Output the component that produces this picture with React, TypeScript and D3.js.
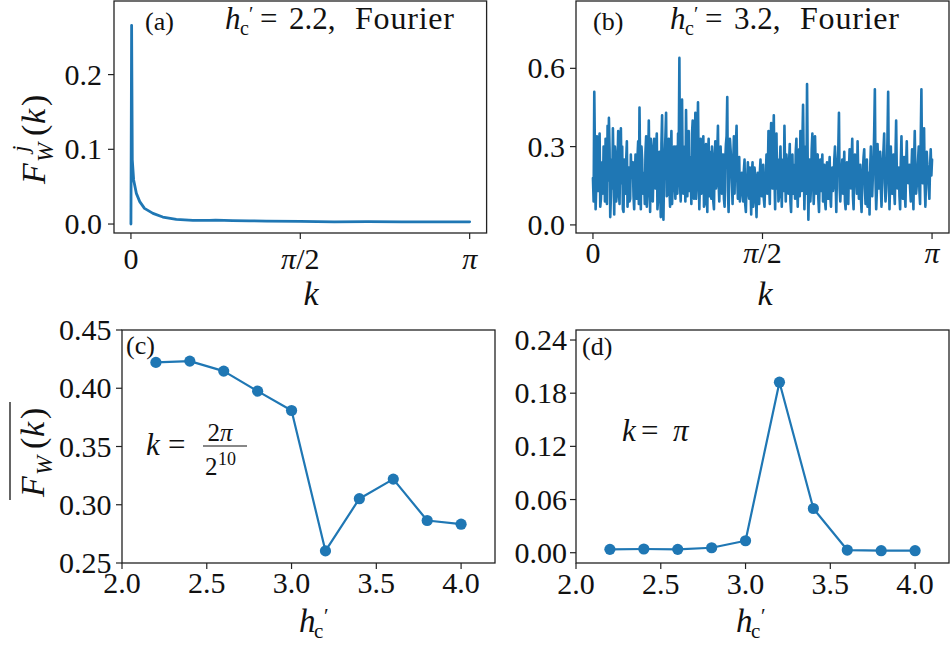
import React from "react";
import * as d3 from "d3";

const BLUE = "#1f77b4";
const FONT = "\"Liberation Serif\", \"DejaVu Serif\", serif";

// ---------- Panel (a): F_W^j(k), h'c = 2.2 (k in units of π)
const kA = [0, 0.002, 0.004, 0.008, 0.016, 0.026, 0.04, 0.065, 0.094, 0.134, 0.183, 0.232, 0.25, 0.3, 0.35, 0.4, 0.5, 0.55, 0.6, 0.7, 0.8, 0.9, 1.0];
const fA = [0, 0.266, 0.086, 0.059, 0.041, 0.03, 0.021, 0.0143, 0.0094, 0.0063, 0.005, 0.0048, 0.0052, 0.0045, 0.0043, 0.004, 0.0035, 0.0032, 0.003, 0.0031, 0.003, 0.003, 0.003];

// ---------- Panel (b): F_W^j(k), h'c = 3.2 — even samples (256) and odd samples (255), k from 0 to π
const fBEven = [
  0.18, 0.51, 0.06, 0.34, 0.13, 0.35, 0.10, 0.24, 0.30, 0.09, 0.21, 0.38, 0.41, 0.03, 0.25, 0.37,
  0.04, 0.26, 0.12, 0.36, 0.08, 0.37, 0.30, 0.05, 0.20, 0.25, 0.07, 0.22, 0.10, 0.18, 0.24, 0.06,
  0.27, 0.10, 0.32, 0.45, 0.06, 0.25, 0.20, 0.08, 0.34, 0.13, 0.40, 0.05, 0.30, 0.09, 0.33, 0.14,
  0.35, 0.10, 0.28, 0.03, 0.42, 0.02, 0.27, 0.43, 0.12, 0.33, 0.07, 0.36, 0.15, 0.30, 0.10, 0.22,
  0.35, 0.64, 0.09, 0.48, 0.12, 0.30, 0.44, 0.11, 0.36, 0.26, 0.08, 0.40, 0.10, 0.43, 0.15, 0.47,
  0.06, 0.33, 0.19, 0.34, 0.08, 0.31, 0.05, 0.33, 0.28, 0.10, 0.25, 0.06, 0.32, 0.17, 0.38, 0.09,
  0.30, 0.12, 0.27, 0.07, 0.31, 0.49, 0.05, 0.33, 0.24, 0.08, 0.34, 0.30, 0.38, 0.10, 0.26, 0.13,
  0.20, 0.09, 0.25, 0.05, 0.18, 0.12, 0.22, 0.04, 0.24, 0.10, 0.19, 0.03, 0.20, 0.08, 0.25, 0.11,
  0.23, 0.07, 0.19, 0.12, 0.36, 0.08, 0.39, 0.14, 0.42, 0.06, 0.35, 0.25, 0.11, 0.30, 0.07, 0.25,
  0.38, 0.09, 0.22, 0.12, 0.31, 0.05, 0.27, 0.20, 0.10, 0.33, 0.07, 0.29, 0.36, 0.13, 0.46, 0.06,
  0.30, 0.54, 0.02, 0.25, 0.15, 0.35, 0.08, 0.34, 0.12, 0.27, 0.05, 0.25, 0.19, 0.09, 0.23, 0.06,
  0.24, 0.10, 0.26, 0.07, 0.22, 0.16, 0.30, 0.05, 0.24, 0.43, 0.09, 0.21, 0.12, 0.28, 0.06, 0.24,
  0.08, 0.29, 0.14, 0.33, 0.06, 0.27, 0.18, 0.32, 0.10, 0.23, 0.05, 0.21, 0.29, 0.08, 0.25, 0.13,
  0.04, 0.30, 0.11, 0.24, 0.52, 0.06, 0.31, 0.14, 0.28, 0.07, 0.25, 0.35, 0.09, 0.20, 0.51, 0.06,
  0.30, 0.12, 0.27, 0.08, 0.40, 0.14, 0.22, 0.06, 0.34, 0.10, 0.26, 0.07, 0.32, 0.16, 0.23, 0.09,
  0.29, 0.06, 0.36, 0.12, 0.20, 0.30, 0.08, 0.52, 0.16, 0.37, 0.07, 0.28, 0.20, 0.10, 0.29, 0.25,
];
const fBOdd = [
  0.09, 0.27, 0.15, 0.22, 0.31, 0.07, 0.19, 0.12, 0.26, 0.33, 0.08, 0.17, 0.29, 0.11, 0.14, 0.21,
  0.30, 0.09, 0.24, 0.13, 0.28, 0.16, 0.06, 0.25, 0.12, 0.32, 0.15, 0.09, 0.27, 0.20, 0.11, 0.18,
  0.14, 0.26, 0.08, 0.22, 0.30, 0.12, 0.17, 0.28, 0.07, 0.24, 0.19, 0.33, 0.10, 0.21, 0.15, 0.29,
  0.06, 0.23, 0.16, 0.31, 0.09, 0.20, 0.34, 0.11, 0.27, 0.14, 0.25, 0.08, 0.22, 0.18, 0.30, 0.12,
  0.26, 0.15, 0.32, 0.20, 0.28, 0.09, 0.24, 0.31, 0.13, 0.19, 0.35, 0.17, 0.27, 0.10, 0.33, 0.21,
  0.18, 0.12, 0.29, 0.07, 0.23, 0.15, 0.26, 0.11, 0.20, 0.30, 0.09, 0.24, 0.14, 0.28, 0.16, 0.22,
  0.19, 0.27, 0.10, 0.25, 0.34, 0.13, 0.21, 0.29, 0.16, 0.24, 0.12, 0.31, 0.18, 0.22, 0.09, 0.17,
  0.13, 0.21, 0.08, 0.16, 0.24, 0.10, 0.14, 0.19, 0.07, 0.22, 0.12, 0.17, 0.11, 0.20, 0.14, 0.18,
  0.10, 0.16, 0.27, 0.20, 0.15, 0.29, 0.22, 0.31, 0.18, 0.26, 0.14, 0.09, 0.23, 0.17, 0.20, 0.13,
  0.21, 0.27, 0.15, 0.24, 0.09, 0.19, 0.12, 0.23, 0.28, 0.15, 0.21, 0.11, 0.18, 0.32, 0.24, 0.19,
  0.12, 0.24, 0.16, 0.09, 0.29, 0.20, 0.15, 0.22, 0.26, 0.10, 0.18, 0.13, 0.27, 0.14, 0.09, 0.17,
  0.15, 0.20, 0.11, 0.18, 0.13, 0.25, 0.17, 0.20, 0.29, 0.14, 0.16, 0.25, 0.19, 0.09, 0.18, 0.14,
  0.21, 0.16, 0.25, 0.11, 0.19, 0.23, 0.12, 0.20, 0.17, 0.10, 0.16, 0.26, 0.14, 0.18, 0.07, 0.20,
  0.22, 0.15, 0.19, 0.36, 0.17, 0.13, 0.22, 0.19, 0.14, 0.18, 0.29, 0.16, 0.13, 0.34, 0.20, 0.16,
  0.18, 0.21, 0.13, 0.26, 0.20, 0.17, 0.11, 0.24, 0.19, 0.15, 0.12, 0.23, 0.18, 0.20, 0.14, 0.21,
  0.16, 0.24, 0.19, 0.15, 0.25, 0.13, 0.33, 0.21, 0.24, 0.15, 0.18, 0.23, 0.14, 0.22, 0.19,
];
const fB: number[] = [];
fBEven.forEach((v, i) => {
  fB.push(v);
  if (i < fBOdd.length) fB.push(fBOdd[i]);
});

// ---------- Panels (c), (d)
const hc = [2.2, 2.4, 2.6, 2.8, 3.0, 3.2, 3.4, 3.6, 3.8, 4.0];
const fC = [0.4222, 0.4233, 0.4147, 0.3975, 0.3809, 0.2604, 0.3052, 0.322, 0.2865, 0.2833];
const fD = [0.0038, 0.0042, 0.0038, 0.0056, 0.0135, 0.1924, 0.0499, 0.003, 0.0023, 0.0023];

// ---------- Tick values / labels
const yTicksA = [0, 0.1, 0.2];
const yTicksB = [0, 0.3, 0.6];
const yTicksC = [0.25, 0.3, 0.35, 0.4, 0.45];
const yTicksD = [0, 0.06, 0.12, 0.18, 0.24];
const hTicks = [2.0, 2.5, 3.0, 3.5, 4.0];
const kTickFrac = [0, 0.5, 1]; // in units of π

const TICK_FS = 30;
const TXT = { fontFamily: FONT, fill: "#111" } as const;

type Box = { l: number; r: number; t: number; b: number };

function Frame({ box }: { box: Box }) {
  return (
    <rect x={box.l} y={box.t} width={box.r - box.l} height={box.b - box.t} fill="none" stroke="#222" strokeWidth={1.3} />
  );
}

function YTicks({ box, scale, ticks, fmt, labelRight }: { box: Box; scale: any; ticks: number[]; fmt: (v: number) => string; labelRight: number }) {
  return (
    <g>
      {ticks.map((v, i) => {
        const y = scale(v);
        return (
          <g key={i}>
            <line x1={box.l - 6} x2={box.l} y1={y} y2={y} stroke="#222" strokeWidth={1.2} />
            <text x={labelRight} y={y + 10} textAnchor="end" fontSize={TICK_FS} style={TXT}>
              {fmt(v)}
            </text>
          </g>
        );
      })}
    </g>
  );
}

function XTicksNum({ box, scale, ticks, baseline }: { box: Box; scale: any; ticks: number[]; baseline: number }) {
  return (
    <g>
      {ticks.map((v, i) => {
        const x = scale(v);
        return (
          <g key={i}>
            <line x1={x} x2={x} y1={box.b} y2={box.b + 6} stroke="#222" strokeWidth={1.2} />
            <text x={x} y={baseline} textAnchor="middle" fontSize={TICK_FS} style={TXT}>
              {v.toFixed(1)}
            </text>
          </g>
        );
      })}
    </g>
  );
}

function XTicksK({ box, xOf, baseline }: { box: Box; xOf: (f: number) => number; baseline: number }) {
  return (
    <g>
      {kTickFrac.map((f, i) => {
        const x = xOf(f);
        return (
          <g key={i}>
            <line x1={x} x2={x} y1={box.b} y2={box.b + 6} stroke="#222" strokeWidth={1.2} />
            <text x={x} y={baseline} textAnchor="middle" fontSize={TICK_FS} style={TXT}>
              {f === 0 ? "0" : f === 0.5 ? (
                <>
                  <tspan fontStyle="italic">π</tspan>
                  <tspan>/2</tspan>
                </>
              ) : (
                <tspan fontStyle="italic">π</tspan>
              )}
            </text>
          </g>
        );
      })}
    </g>
  );
}

function Title({ x, y, value }: { x: number; y: number; value: string }) {
  return (
    <g>
      <text x={x} y={y} fontSize={31} fontStyle="italic" style={TXT}>h</text>
      <text x={x + 24} y={y - 8} fontSize={20} style={TXT}>′</text>
      <text x={x + 15} y={y + 6} fontSize={20} style={TXT}>c</text>
      <text x={x + 35} y={y} fontSize={31} style={TXT}>=</text>
      <text x={x + 64} y={y} fontSize={31} style={TXT}>{value},</text>
      <text x={x + 130} y={y} fontSize={32} letterSpacing={0.8} style={TXT}>Fourier</text>
    </g>
  );
}

function HcLabel({ cx, y }: { cx: number; y: number }) {
  const x = cx - 15;
  return (
    <g>
      <text x={x} y={y} fontSize={33} fontStyle="italic" style={TXT}>h</text>
      <text x={x + 25} y={y - 9} fontSize={21} style={TXT}>′</text>
      <text x={x + 15} y={y + 6} fontSize={21} style={TXT}>c</text>
    </g>
  );
}

export default function App() {
  const W = 951, H = 646;
  const boxA: Box = { l: 114, r: 486.6, t: 1, b: 233 };
  const boxB: Box = { l: 576, r: 949, t: 1, b: 233 };
  const boxC: Box = { l: 122, r: 495, t: 330, b: 563 };
  const boxD: Box = { l: 576, r: 949, t: 330, b: 563 };

  const xa = d3.scaleLinear().domain([-0.05 * Math.PI, 1.05 * Math.PI]).range([boxA.l, boxA.r]);
  const ya = d3.scaleLinear().domain([-0.012, 0.2985]).range([boxA.b, boxA.t]);
  const nB = fB.length - 1;
  const xb = d3.scaleLinear().domain([-0.05 * nB, 1.05 * nB]).range([boxB.l, boxB.r]);
  const yb = d3.scaleLinear().domain([-0.031, 0.858]).range([boxB.b, boxB.t]);
  const xc = d3.scaleLinear().domain([2.0, 4.2]).range([boxC.l, boxC.r]);
  const yc = d3.scaleLinear().domain([0.25, 0.45]).range([boxC.b, boxC.t]);
  const xd = d3.scaleLinear().domain([2.0, 4.2]).range([boxD.l, boxD.r]);
  const yd = d3.scaleLinear().domain([-0.0116, 0.2513]).range([boxD.b, boxD.t]);

  const lineA = d3.line<number>().x((_, i) => xa(kA[i] * Math.PI)).y((v) => ya(v))(fA) || "";
  const lineB = d3.line<number>().x((_, i) => xb(i)).y((v) => yb(v))(fB) || "";
  const lineC = d3.line<number>().x((_, i) => xc(hc[i])).y((v) => yc(v))(fC) || "";
  const lineD = d3.line<number>().x((_, i) => xd(hc[i])).y((v) => yd(v))(fD) || "";

  return (
    <div style={{ position: "absolute", left: 0, top: 0 }}>
      <svg width={W} height={H} viewBox={`0 0 ${W} ${H}`} style={{ display: "block", background: "#fff", fontFamily: FONT }}>
        <rect width={W} height={H} fill="#fff" />

        {/* Panel (a) */}
        <path d={lineA} fill="none" stroke={BLUE} strokeWidth={2.8} strokeLinejoin="round" strokeLinecap="round" />
        <Frame box={boxA} />
        <YTicks box={boxA} scale={ya} ticks={yTicksA} fmt={(v) => v.toFixed(1)} labelRight={102} />
        <XTicksK box={boxA} xOf={(f) => xa(f * Math.PI)} baseline={269} />
        <text x={145} y={30} fontSize={26} style={TXT}>(a)</text>
        <Title x={225} y={29} value="2.2" />
        <text x={311} y={305} textAnchor="middle" fontSize={34} fontStyle="italic" style={TXT}>k</text>
        <g transform="translate(45,138) rotate(-90)">
          <text x={-46} y={0} fontSize={34} fontStyle="italic" style={TXT}>F</text>
          <text x={-24} y={8} fontSize={23} fontStyle="italic" style={TXT}>W</text>
          <text x={-14} y={-17} fontSize={23} fontStyle="italic" style={TXT}>j</text>
          <text x={2} y={0} fontSize={34} style={TXT}>(</text>
          <text x={14} y={0} fontSize={34} fontStyle="italic" style={TXT}>k</text>
          <text x={32} y={0} fontSize={34} style={TXT}>)</text>
        </g>

        {/* Panel (b) */}
        <path d={lineB} fill="none" stroke={BLUE} strokeWidth={2.6} strokeLinejoin="round" strokeLinecap="round" />
        <Frame box={boxB} />
        <YTicks box={boxB} scale={yb} ticks={yTicksB} fmt={(v) => v.toFixed(1)} labelRight={565} />
        <XTicksK box={boxB} xOf={(f) => xb(f * nB)} baseline={263} />
        <text x={593} y={30} fontSize={26} style={TXT}>(b)</text>
        <Title x={670} y={29} value="3.2" />
        <text x={765} y={305} textAnchor="middle" fontSize={34} fontStyle="italic" style={TXT}>k</text>

        {/* Panel (c) */}
        <path d={lineC} fill="none" stroke={BLUE} strokeWidth={2.2} strokeLinejoin="round" />
        {fC.map((v, i) => (
          <circle key={i} cx={xc(hc[i])} cy={yc(v)} r={5.6} fill={BLUE} />
        ))}
        <Frame box={boxC} />
        <YTicks box={boxC} scale={yc} ticks={yTicksC} fmt={(v) => v.toFixed(2)} labelRight={111.5} />
        <XTicksNum box={boxC} scale={xc} ticks={hTicks} baseline={593} />
        <text x={126} y={354} fontSize={26} style={TXT}>(c)</text>
        <text x={146} y={455} fontSize={31} fontStyle="italic" style={TXT}>k</text>
        <text x={168} y={455} fontSize={31} style={TXT}>=</text>
        <text x={220} y={440.5} fontSize={25} textAnchor="middle" style={TXT}>2<tspan fontStyle="italic">π</tspan></text>
        <line x1={203} x2={247} y1={446} y2={446} stroke="#111" strokeWidth={1.2} />
        <text x={205} y={475} fontSize={25} style={TXT}>2</text>
        <text x={218} y={465} fontSize={18} style={TXT}>10</text>
        <HcLabel cx={314} y={632} />
        <g transform="translate(44,451) rotate(-90)">
          <line x1={-49} x2={49} y1={-34} y2={-34} stroke="#111" strokeWidth={1.3} />
          <text x={-46} y={0} fontSize={34} fontStyle="italic" style={TXT}>F</text>
          <text x={-24} y={8} fontSize={23} fontStyle="italic" style={TXT}>W</text>
          <text x={2} y={0} fontSize={34} style={TXT}>(</text>
          <text x={14} y={0} fontSize={34} fontStyle="italic" style={TXT}>k</text>
          <text x={32} y={0} fontSize={34} style={TXT}>)</text>
        </g>

        {/* Panel (d) */}
        <path d={lineD} fill="none" stroke={BLUE} strokeWidth={2.2} strokeLinejoin="round" />
        {fD.map((v, i) => (
          <circle key={i} cx={xd(hc[i])} cy={yd(v)} r={5.6} fill={BLUE} />
        ))}
        <Frame box={boxD} />
        <YTicks box={boxD} scale={yd} ticks={yTicksD} fmt={(v) => v.toFixed(2)} labelRight={567} />
        <XTicksNum box={boxD} scale={xd} ticks={hTicks} baseline={594} />
        <text x={582} y={355} fontSize={26} style={TXT}>(d)</text>
        <text x={622} y={440.5} fontSize={31} fontStyle="italic" style={TXT}>k</text>
        <text x={641} y={440.5} fontSize={31} style={TXT}>=</text>
        <text x={673} y={440.5} fontSize={31} fontStyle="italic" style={TXT}>π</text>
        <HcLabel cx={751} y={632} />
      </svg>
    </div>
  );
}
